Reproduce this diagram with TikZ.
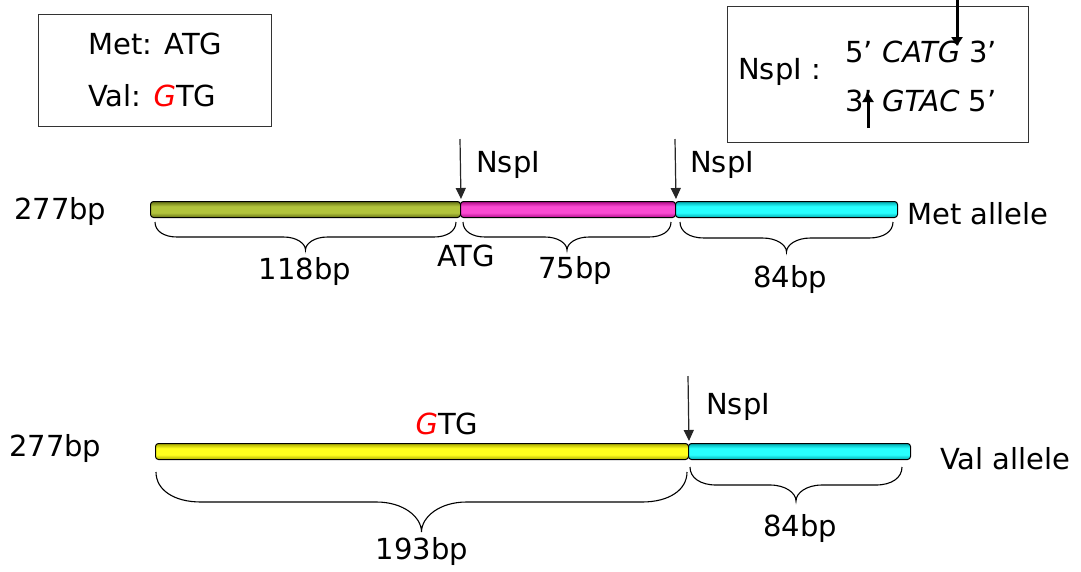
\documentclass[tikz,border=0pt]{standalone}
\usepackage{fontspec}
\setmainfont{DejaVu Sans}
\usetikzlibrary{arrows.meta}

% bar segment colours: bright middle, darker rims
\definecolor{olivemid}{RGB}{178,196,60}
\definecolor{oliveedge}{RGB}{100,112,20}
\definecolor{magmid}{RGB}{250,75,210}
\definecolor{magedge}{RGB}{175,10,135}
\definecolor{cyanmid}{RGB}{40,255,255}
\definecolor{cyanedge}{RGB}{0,170,175}
\definecolor{yelmid}{RGB}{255,255,30}
\definecolor{yeledge}{RGB}{170,170,0}
\definecolor{mutred}{RGB}{255,0,0}

% cylinder-like vertical shadings: dark rims, bright middle band
\pgfdeclareverticalshading{oliveshade}{100bp}{color(0bp)=(oliveedge); color(25bp)=(oliveedge);
  color(40bp)=(olivemid); color(60bp)=(olivemid); color(75bp)=(oliveedge); color(100bp)=(oliveedge)}
\pgfdeclareverticalshading{magshade}{100bp}{color(0bp)=(magedge); color(25bp)=(magedge);
  color(40bp)=(magmid); color(60bp)=(magmid); color(75bp)=(magedge); color(100bp)=(magedge)}
\pgfdeclareverticalshading{cyanshade}{100bp}{color(0bp)=(cyanedge); color(25bp)=(cyanedge);
  color(40bp)=(cyanmid); color(60bp)=(cyanmid); color(75bp)=(cyanedge); color(100bp)=(cyanedge)}
\pgfdeclareverticalshading{yelshade}{100bp}{color(0bp)=(yeledge); color(25bp)=(yeledge);
  color(40bp)=(yelmid); color(60bp)=(yelmid); color(75bp)=(yeledge); color(100bp)=(yeledge)}

% curly brace under a fragment: x1, x2, y top, y middle, y tip, corner radius
\newcommand\dnabrace[6]{%
  \pgfmathsetmacro\bxm{(#1+#2)/2}%
  \draw[bracestyle] (#1,#3)
    .. controls (#1,{#3+0.6*(#4-#3)}) and ({#1+0.4*#6},#4) .. ({#1+#6},#4)
    -- ({\bxm-#6},#4)
    .. controls ({\bxm-0.4*#6},#4) and (\bxm,{#4+0.5*(#5-#4)}) .. (\bxm,#5)
    .. controls (\bxm,{#4+0.5*(#5-#4)}) and ({\bxm+0.4*#6},#4) .. ({\bxm+#6},#4)
    -- ({#2-#6},#4)
    .. controls ({#2-0.4*#6},#4) and (#2,{#3+0.6*(#4-#3)}) .. (#2,#3);}

\begin{document}
\begin{tikzpicture}[x=1pt,y=-1pt,
  font=\fontsize{29}{33}\selectfont,
  seg/.style={draw=black, line width=1pt, rounded corners=3pt, inner sep=0pt,
    minimum height=16pt, anchor=north west},
  oliveseg/.style={seg, shading=oliveshade},
  magseg/.style={seg, shading=magshade},
  cyanseg/.style={seg, shading=cyanshade},
  yelseg/.style={seg, shading=yelshade},
  cut/.style={draw=black!85, line width=1.2pt, -{Triangle[length=11pt,width=10pt]}, shorten >=2pt},
  thickcut/.style={draw=black, line width=3pt, -{Triangle[length=9pt,width=11pt]}},
  bracestyle/.style={draw=black, line width=1.1pt},
  infobox/.style={draw=black!80, line width=1.3pt, inner sep=0pt, anchor=north west},
  lbl/.style={inner sep=0pt},
  lblw/.style={inner sep=0pt, anchor=west}]

\useasboundingbox (0,0) rectangle (1081,571);
\fill[white] (0,0) rectangle (1081,571);

% ---- codon key ----
\node[infobox, minimum width=233pt, minimum height=112pt] (codons) at (38,14) {};
\node[lblw] (metcodon) at (88,44) {Met: ATG};
\node[lblw] (valcodon) at (88,96) {Val: {\color{mutred}\itshape G}TG};

% ---- NspI recognition site ----
\node[infobox, minimum width=301pt, minimum height=136pt] (site) at (727,6) {};
\node[lblw] (sitename) at (738,72) {NspI :};
\node[lblw] (topstrand) at (845,52) {5’ {\itshape CATG} 3’};
\node[lblw] (botstrand) at (845,101) {3’ {\itshape GTAC} 5’};
\coordinate (topcut0) at (957,0);
\coordinate (topcut1) at (957,46);
\coordinate (botcut0) at (868,128);
\coordinate (botcut1) at (868,93);
\draw[thickcut] (topcut0) -- (topcut1);
\draw[thickcut] (botcut0) -- (botcut1);

% ---- Met allele ----
\node[lblw] (metlen) at (14,211) {277bp};
\node[oliveseg, minimum width=310pt] (m1) at (150,201) {};
\node[magseg, minimum width=215pt] (m2) at (460,201) {};
\node[cyanseg, minimum width=222pt] (m3) at (675,201) {};
\node[lblw] (metname) at (907,214) {Met allele};

\coordinate (mcutA) at (460,139);
\coordinate (mcutB) at (675,139);
\draw[cut] (mcutA) -- (m1.north east);
\draw[cut] (mcutB) -- (m2.north east);
\node[lblw] (mnspA) at (476,165) {NspI};
\node[lblw] (mnspB) at (690,165) {NspI};

\dnabrace{155}{456}{222}{237}{250}{22}
\dnabrace{463}{671}{222}{237}{250}{22}
\dnabrace{680}{893}{222}{238}{252}{24}
\node[lbl] (m118) at (305,271) {118bp};
\node[lbl] (matg) at (466,256) {ATG};
\node[lbl] (m75) at (575,270) {75bp};
\node[lbl] (m84) at (790,279) {84bp};

% ---- Val allele ----
\node[lblw] (vallen) at (9,448) {277bp};
\node[yelseg, minimum width=533pt] (v1) at (155,443) {};
\node[cyanseg, minimum width=222pt] (v2) at (688,443) {};
\node[lblw] (valname) at (940,459) {Val allele};

\coordinate (vcut) at (688,376);
\draw[cut] (vcut) -- (v1.north east);
\node[lblw] (vnsp) at (706,407) {NspI};
\node[lbl] (vgtg) at (447,424) {{\color{mutred}\itshape G}TG};

\dnabrace{156}{687}{472}{502}{532}{45}
\dnabrace{690}{902}{467}{485}{501}{26}
\node[lbl] (v193) at (422,551) {193bp};
\node[lbl] (v84) at (800,528) {84bp};

\end{tikzpicture}
\end{document}
